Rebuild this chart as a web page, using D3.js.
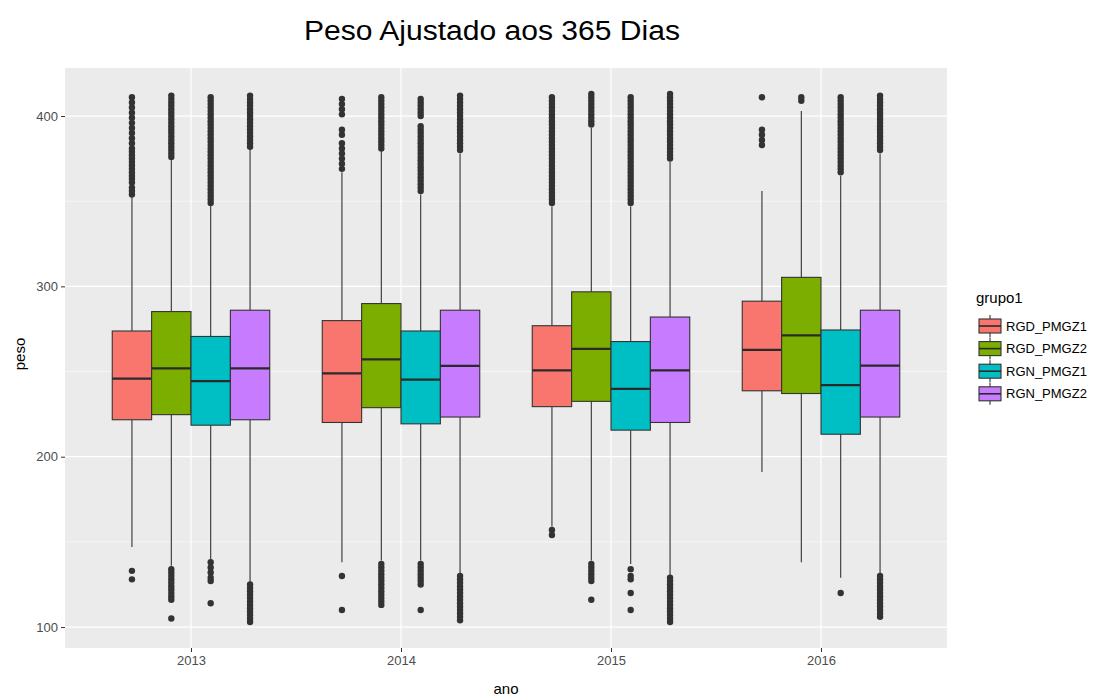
<!DOCTYPE html>
<html>
<head>
<meta charset="utf-8">
<script src="https://cdn.jsdelivr.net/npm/d3@7"></script>
<style>
  html, body { margin: 0; padding: 0; background: #ffffff; }
  svg { display: block; font-family: "Liberation Sans", Arial, sans-serif; }
</style>
</head>
<body>
<svg id="chart" width="1109" height="700"></svg>
<script>
// ---------------- data ----------------
const years = ["2013", "2014", "2015", "2016"];
const groups = ["RGD_PMGZ1", "RGD_PMGZ2", "RGN_PMGZ1", "RGN_PMGZ2"];
const yTicks = [100, 200, 300, 400];
const yMinorTicks = [150, 250, 350];

// rows: groups, columns: years
const boxQ1 = [
  [221.7, 220.1, 229.4, 238.7],
  [224.7, 228.8, 232.5, 237.1],
  [218.5, 219.3, 215.6, 213.2],
  [221.7, 223.3, 220.1, 223.3]
];
const boxMedian = [
  [245.8, 248.9, 250.7, 262.7],
  [251.9, 257.2, 263.3, 271.2],
  [244.4, 245.2, 239.8, 242.0],
  [251.9, 253.3, 250.7, 253.5]
];
const boxQ3 = [
  [273.8, 279.9, 276.9, 291.3],
  [285.2, 289.9, 296.8, 305.3],
  [270.6, 273.8, 267.6, 274.4],
  [286.0, 286.0, 282.0, 286.0]
];
const whiskerLow = [
  [147, 138, 159, 191],
  [136, 139, 139, 138],
  [140, 139, 137, 129],
  [126, 131, 130, 131]
];
const whiskerHigh = [
  [354, 367, 347, 356],
  [375, 380, 393, 403],
  [348, 354, 347, 365],
  [381, 378, 373, 378]
];

// outliers per year, one list per group
const outliers2013 = [
  [354, 356, 358, 361, 363, 365, 367, 369, 371, 373, 375, 377, 379, 381, 384, 387, 390, 393, 396, 399, 402, 405, 408, 411, 133, 128],
  [376, 378, 380, 382, 384, 386, 388, 390, 392, 394, 396, 398, 400, 402, 404, 406, 408, 410, 412,
   134, 132, 130, 128, 126, 124, 122, 120, 118, 116, 105],
  [349, 351, 353, 355, 357, 359, 361, 363, 365, 367, 369, 371, 373, 375, 377, 379, 381, 383, 385, 387, 389, 391, 393, 395, 397, 399, 401, 403, 405, 407, 409, 411,
   138, 135, 132, 129, 127, 114],
  [382, 384, 386, 388, 390, 392, 394, 396, 398, 400, 402, 404, 406, 408, 410, 412,
   125, 123, 121, 119, 117, 115, 113, 111, 109, 107, 105, 103]
];
const outliers2014 = [
  [369, 372, 375, 378, 381, 384, 389, 392, 401, 404, 407, 410, 130, 110],
  [381, 383, 385, 387, 389, 391, 393, 395, 397, 399, 401, 403, 405, 407, 409, 411,
   137, 135, 133, 131, 129, 127, 125, 123, 121, 119, 117, 115, 113],
  [356, 358, 360, 362, 364, 366, 368, 370, 372, 374, 376, 378, 380, 382, 384, 386, 388, 390, 392, 394, 400, 402, 404, 406, 408, 410,
   137, 135, 133, 131, 129, 127, 125, 110],
  [380, 382, 384, 386, 388, 390, 392, 394, 396, 398, 400, 402, 404, 406, 408, 410, 412,
   130, 128, 126, 124, 122, 120, 118, 116, 114, 112, 110, 108, 106, 104]
];
const outliers2015 = [
  [349, 351, 353, 355, 357, 359, 361, 363, 365, 367, 369, 371, 373, 375, 377, 379, 381, 383, 385, 387, 389, 391, 393, 395, 397, 399, 401, 403, 405, 407, 409, 411,
   157, 154],
  [395, 397, 399, 401, 403, 405, 407, 409, 411, 413, 137, 135, 133, 131, 129, 127, 116],
  [349, 351, 353, 355, 357, 359, 361, 363, 365, 367, 369, 371, 373, 375, 377, 379, 381, 383, 385, 387, 389, 391, 393, 395, 397, 399, 401, 403, 405, 407, 409, 411,
   134, 130, 128, 120, 110],
  [375, 377, 379, 381, 383, 385, 387, 389, 391, 393, 395, 397, 399, 401, 403, 405, 407, 409, 411, 413,
   129, 127, 125, 123, 121, 119, 117, 115, 113, 111, 109, 107, 105, 103]
];
const outliers2016 = [
  [383, 386, 389, 392, 411],
  [409, 411],
  [367, 369, 371, 373, 375, 377, 379, 381, 383, 385, 387, 389, 391, 393, 395, 397, 399, 401, 403, 405, 407, 409, 411, 120],
  [380, 382, 384, 386, 388, 390, 392, 394, 396, 398, 400, 402, 404, 406, 408, 410, 412,
   130, 128, 126, 124, 122, 120, 118, 116, 114, 112, 110, 108, 106]
];
const outliersByYear = [outliers2013, outliers2014, outliers2015, outliers2016];

const palette = ["#F8766D", "#7CAE00", "#00BFC4", "#C77CFF"];

// ---------------- layout ----------------
const svg = d3.select("#chart");
const panel = { left: 65, right: 947, top: 68, bottom: 648 };

const x = d3.scalePoint().domain(years).range([panel.left, panel.right]).padding(0.6);
const dodgeHalf = x.step() * 0.375;
const xg = d3.scaleBand().domain(groups).range([-dodgeHalf, dodgeHalf]);
const y = d3.scaleLinear().domain([87.7, 428.2]).range([panel.bottom, panel.top]);
const color = d3.scaleOrdinal().domain(groups).range(palette);

// panel background
svg.append("rect")
  .attr("x", panel.left).attr("y", panel.top)
  .attr("width", panel.right - panel.left).attr("height", panel.bottom - panel.top)
  .attr("fill", "#EBEBEB");

// grid
const grid = svg.append("g");
grid.selectAll("line.minor").data(yMinorTicks).join("line")
  .attr("x1", panel.left).attr("x2", panel.right)
  .attr("y1", d => y(d)).attr("y2", d => y(d))
  .attr("stroke", "#ffffff").attr("stroke-width", 0.6);
grid.selectAll("line.majory").data(yTicks).join("line")
  .attr("x1", panel.left).attr("x2", panel.right)
  .attr("y1", d => y(d)).attr("y2", d => y(d))
  .attr("stroke", "#ffffff").attr("stroke-width", 1.2);
grid.selectAll("line.majorx").data(years).join("line")
  .attr("x1", d => x(d)).attr("x2", d => x(d))
  .attr("y1", panel.top).attr("y2", panel.bottom)
  .attr("stroke", "#ffffff").attr("stroke-width", 1.2);

// boxes
const boxes = [];
years.forEach((yr, yi) => {
  groups.forEach((g, gi) => {
    boxes.push({
      year: yr, group: g,
      q1: boxQ1[gi][yi], med: boxMedian[gi][yi], q3: boxQ3[gi][yi],
      lo: whiskerLow[gi][yi], hi: whiskerHigh[gi][yi],
      out: outliersByYear[yi][gi]
    });
  });
});

const bw = xg.bandwidth();
const bg = svg.append("g");
const b = bg.selectAll("g.box").data(boxes).join("g")
  .attr("transform", d => `translate(${x(d.year) + xg(d.group)},0)`);

b.append("line")
  .attr("x1", bw / 2).attr("x2", bw / 2)
  .attr("y1", d => y(d.hi)).attr("y2", d => y(d.q3))
  .attr("stroke", "#333333").attr("stroke-width", 1.1);
b.append("line")
  .attr("x1", bw / 2).attr("x2", bw / 2)
  .attr("y1", d => y(d.q1)).attr("y2", d => y(d.lo))
  .attr("stroke", "#333333").attr("stroke-width", 1.1);
b.append("rect")
  .attr("x", 0).attr("width", bw)
  .attr("y", d => y(d.q3)).attr("height", d => y(d.q1) - y(d.q3))
  .attr("fill", d => color(d.group))
  .attr("stroke", "#333333").attr("stroke-width", 1.1);
b.append("line")
  .attr("x1", 0).attr("x2", bw)
  .attr("y1", d => y(d.med)).attr("y2", d => y(d.med))
  .attr("stroke", "#2a2a2a").attr("stroke-width", 2.3);
b.selectAll("circle").data(d => d.out).join("circle")
  .attr("cx", bw / 2).attr("cy", v => y(v)).attr("r", 3.2)
  .attr("fill", "#333333");

// axes
const yAxis = svg.append("g")
  .attr("transform", `translate(${panel.left},0)`)
  .call(d3.axisLeft(y).tickValues(yTicks).tickSize(4).tickPadding(3));
yAxis.select(".domain").remove();
yAxis.selectAll(".tick line").attr("stroke", "#333333");
yAxis.selectAll(".tick text").attr("fill", "#4D4D4D")
  .style("font-size", "13px").style("font-family", "Liberation Sans, Arial, sans-serif");

const xAxis = svg.append("g")
  .attr("transform", `translate(0,${panel.bottom})`)
  .call(d3.axisBottom(x).tickSize(4).tickPadding(4));
xAxis.select(".domain").remove();
xAxis.selectAll(".tick line").attr("stroke", "#333333");
xAxis.selectAll(".tick text").attr("fill", "#4D4D4D")
  .style("font-size", "13px").style("font-family", "Liberation Sans, Arial, sans-serif");

// titles
svg.append("text")
  .attr("x", 304).attr("y", 40)
  .attr("textLength", 376).attr("lengthAdjust", "spacingAndGlyphs")
  .style("font-size", "27px").attr("fill", "#000000")
  .text("Peso Ajustado aos 365 Dias");

svg.append("text")
  .attr("x", (panel.left + panel.right) / 2).attr("y", 694)
  .attr("text-anchor", "middle").style("font-size", "15px").attr("fill", "#000000")
  .text("ano");

svg.append("text")
  .attr("transform", `translate(25,${(panel.top + panel.bottom) / 2 - 4}) rotate(-90)`)
  .attr("text-anchor", "middle").style("font-size", "15px").attr("fill", "#000000")
  .text("peso");

// legend
const legend = svg.append("g").attr("transform", "translate(976,0)");
legend.append("text").attr("x", 0).attr("y", 303)
  .style("font-size", "15px").attr("fill", "#000000").text("grupo1");
const keyRows = legend.selectAll("g.key").data(groups).join("g")
  .attr("transform", (d, i) => `translate(0,${326 + i * 22.6})`);
keyRows.append("line").attr("x1", 14).attr("x2", 14).attr("y1", -11).attr("y2", 11)
  .attr("stroke", "#333333").attr("stroke-width", 1.1);
keyRows.append("rect").attr("x", 3).attr("y", -7).attr("width", 22).attr("height", 14)
  .attr("fill", d => color(d)).attr("stroke", "#333333").attr("stroke-width", 1.1);
keyRows.append("line").attr("x1", 3).attr("x2", 25).attr("y1", 0).attr("y2", 0)
  .attr("stroke", "#2a2a2a").attr("stroke-width", 1.6);
keyRows.append("text").attr("x", 30).attr("y", 0).attr("dy", "0.35em")
  .style("font-size", "13px").attr("fill", "#000000").text(d => d);
</script>
</body>
</html>
